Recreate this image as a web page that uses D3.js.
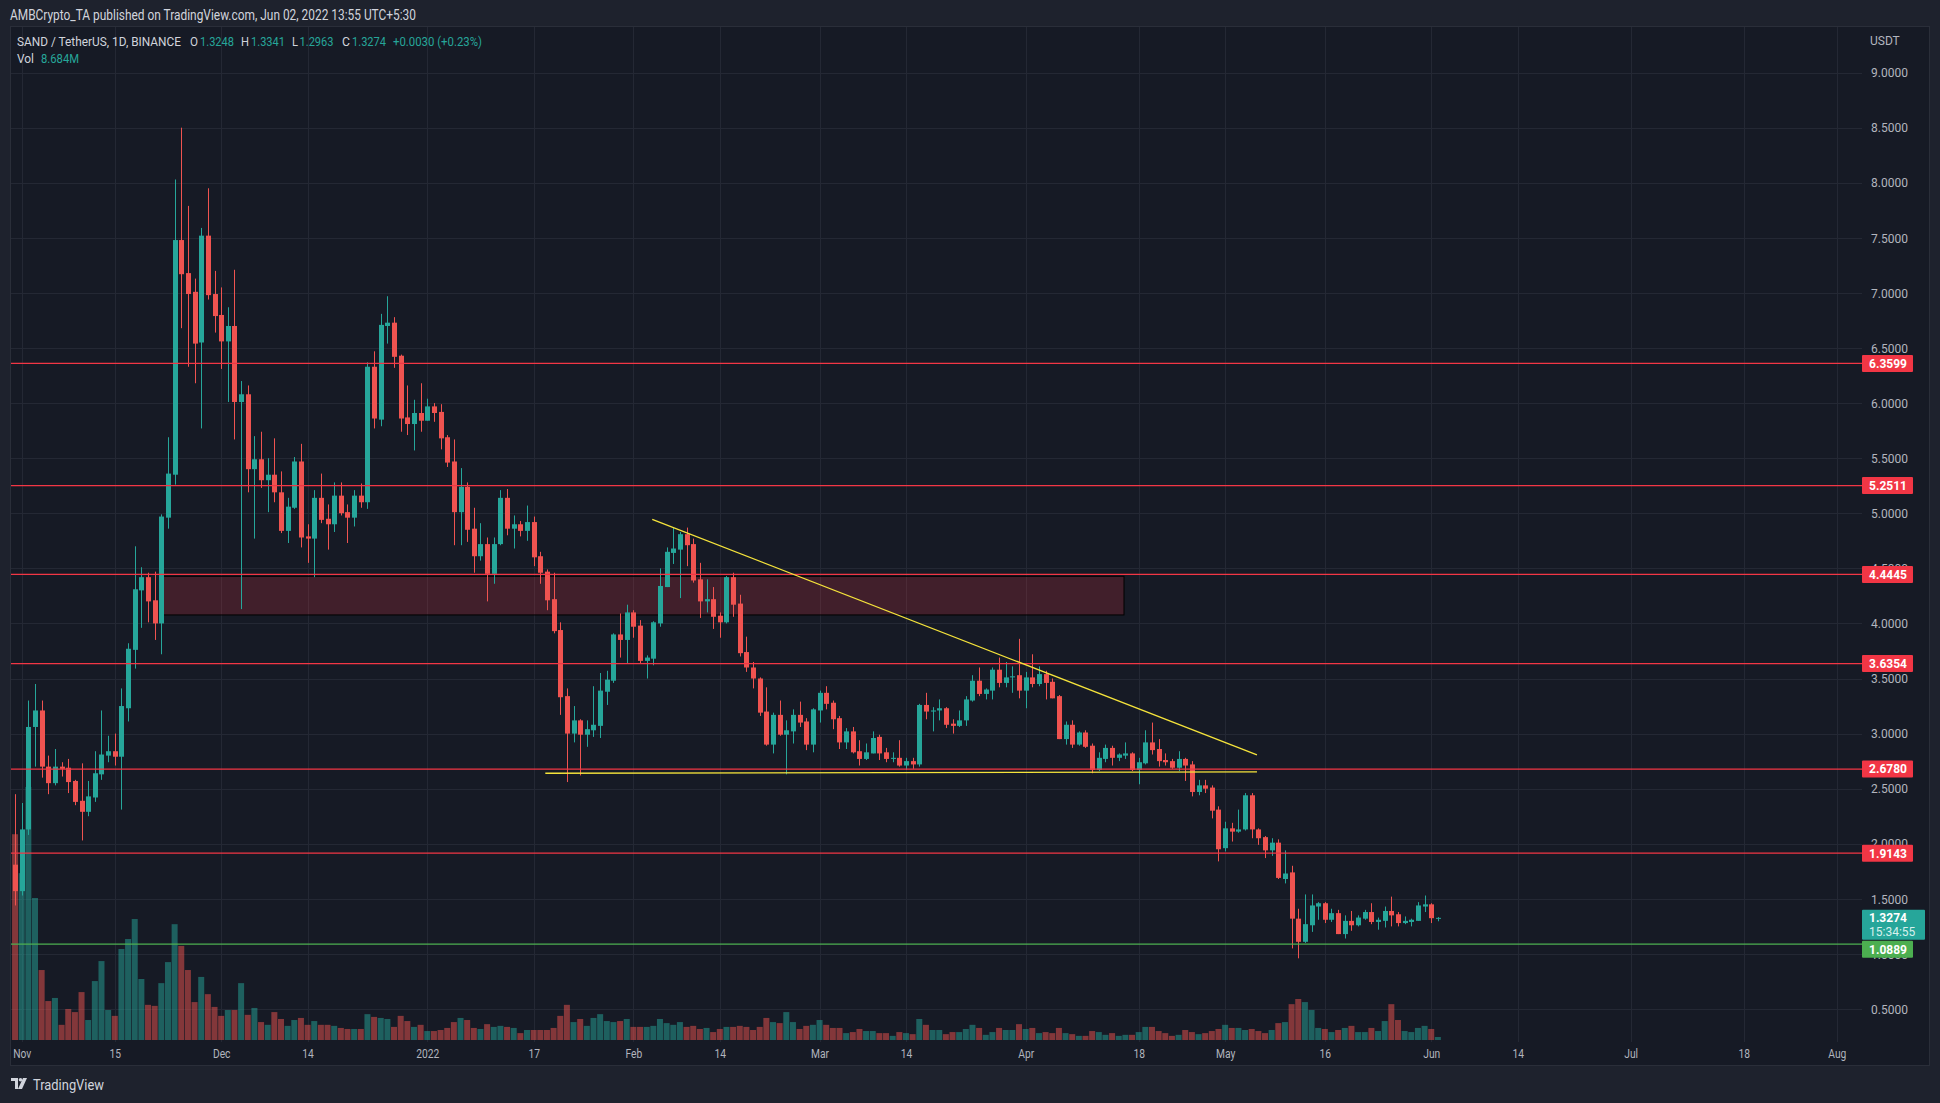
<!DOCTYPE html>
<html>
<head>
<meta charset="utf-8">
<script src="https://cdn.jsdelivr.net/npm/d3@7"></script>
<style>
  body { margin: 0; background: #1e222d; }
  svg { display: block; }
  .narrow { font-family: Roboto, "Noto Sans", sans-serif; }
  .num { font-family: Roboto, "Noto Sans", sans-serif; }
</style>
</head>
<body>
<svg id="chart"></svg>
<script>
var svgWidth = 1940;
var svgHeight = 1103;

// pane box (price pane), axes sit to the right and below
var pane = { left: 11, right: 1862, top: 27, bottom: 1042 };

// daily SAND/USDT candles, first one is 31 Oct 2021
var firstDay = "2021-10-31";
var opens = [1.81,1.57,2.13,3.06,3.21,2.70,2.55,2.70,2.69,2.57,2.39,2.29,2.42,2.63,2.80,2.84,2.79,3.23,3.76,4.30,4.42,4.21,4.00,4.96,5.35,7.48,7.18,7.01,6.55,7.52,6.99,
  6.80,6.56,6.70,6.01,6.08,5.40,5.49,5.30,5.35,5.19,4.84,5.05,5.47,4.79,4.77,5.14,4.95,4.90,5.16,5.01,4.96,5.16,5.10,6.33,5.85,6.70,6.73,6.43,5.87,5.81,5.91,
  5.84,5.97,5.92,5.69,5.47,5.01,5.24,4.86,4.61,4.72,4.45,4.72,5.14,4.86,4.90,4.84,4.92,4.61,4.47,4.22,3.94,3.34,3.00,3.12,2.99,3.03,3.07,3.38,3.48,3.90,3.85,
  4.10,3.98,3.66,3.68,4.00,4.33,4.64,4.67,4.81,4.72,4.40,4.20,4.22,4.07,4.01,4.42,4.18,3.74,3.60,3.50,3.20,2.90,3.17,2.99,3.02,3.17,3.11,2.90,
  3.21,3.37,3.28,3.14,2.92,3.02,2.84,2.77,2.82,2.97,2.83,2.77,2.78,2.71,2.75,2.72,3.26,3.20,3.21,3.23,3.09,3.07,3.12,3.30,3.48,3.36,3.39,3.58,3.46,3.51,3.53,
  3.39,3.51,3.45,3.54,3.47,3.34,2.95,3.08,2.90,3.01,2.89,2.67,2.77,2.87,2.78,2.80,2.82,2.67,2.73,2.92,2.86,2.76,2.75,2.69,2.77,2.72,2.47,2.53,2.51,2.31,
  1.96,2.14,2.11,2.13,2.44,2.13,2.06,1.94,2.01,1.68,1.74,1.32,1.11,1.26,1.43,1.46,1.31,1.37,1.18,1.30,1.26,1.32,1.38,1.29,1.30,1.39,1.36,1.28,1.29,1.30,1.43,
  1.45,1.3248];
var highs = [2.45,2.37,3.30,3.45,3.30,2.80,2.86,2.74,2.77,2.58,2.73,2.57,2.84,3.21,2.98,3.00,3.41,3.82,4.70,4.51,4.46,4.47,4.99,5.69,8.03,8.50,7.79,7.13,7.59,7.95,7.20,
  7.05,6.87,7.21,6.20,6.16,5.70,5.74,5.50,5.68,5.38,5.14,5.51,5.63,4.90,5.21,5.36,5.08,5.28,5.28,5.08,5.21,5.27,6.37,6.47,6.81,6.97,6.78,6.44,6.16,6.03,6.18,
  6.04,6.00,5.99,5.71,5.67,5.41,5.28,5.05,4.91,4.78,4.78,5.21,5.22,4.98,4.93,5.07,4.97,4.65,4.49,4.46,4.01,3.41,3.25,3.13,3.12,3.43,3.55,3.57,3.91,4.09,4.17,
  4.12,4.03,3.71,4.02,4.50,4.69,4.87,4.83,4.87,4.77,4.55,4.40,4.33,4.10,4.43,4.46,4.26,3.88,3.65,3.51,3.42,3.19,3.30,3.12,3.22,3.29,3.14,3.23,
  3.39,3.43,3.30,3.16,3.05,3.06,2.94,2.91,3.02,2.99,2.87,2.83,2.94,2.78,2.78,3.27,3.37,3.24,3.31,3.24,3.13,3.21,3.34,3.53,3.60,3.41,3.60,3.69,3.65,3.61,3.86,
  3.56,3.72,3.61,3.57,3.50,3.35,3.11,3.12,3.02,3.03,2.91,2.83,2.90,2.89,2.82,2.92,2.83,2.78,3.03,3.10,2.95,2.82,2.77,2.84,2.78,2.75,2.58,2.58,2.53,2.34,
  2.20,2.19,2.31,2.46,2.46,2.14,2.07,2.05,2.04,1.94,1.80,1.41,1.54,1.54,1.47,1.47,1.41,1.40,1.35,1.39,1.35,1.40,1.46,1.33,1.43,1.52,1.38,1.34,1.32,1.47,1.53,
  1.46,1.3341];
var lows = [1.44,1.53,2.08,2.70,2.60,2.45,2.53,2.61,2.46,2.35,2.03,2.25,2.38,2.58,2.74,2.71,2.31,3.11,3.59,3.96,4.01,3.85,3.72,4.86,5.26,6.68,6.33,6.18,5.77,6.94,6.64,
  6.31,6.01,5.67,4.13,5.19,4.77,5.23,5.01,5.10,4.82,4.73,5.04,4.69,4.55,4.42,4.91,4.67,4.83,4.98,4.73,4.88,5.05,5.04,5.77,5.79,6.54,6.32,5.74,5.71,5.57,5.74,
  5.84,5.83,5.58,5.42,4.71,4.71,4.74,4.46,4.57,4.20,4.36,4.71,4.80,4.68,4.79,4.75,4.52,4.36,4.12,3.91,3.17,2.56,2.92,2.62,2.88,2.97,2.96,3.26,3.46,3.69,3.64,
  3.87,3.64,3.50,3.62,3.97,4.33,4.54,4.23,4.52,4.37,4.05,4.10,3.95,3.87,4.00,4.06,3.70,3.56,3.41,3.16,2.89,2.82,2.98,2.63,2.91,3.06,2.85,2.83,
  3.10,3.22,3.04,2.86,2.86,2.82,2.71,2.76,2.82,2.76,2.74,2.74,2.70,2.67,2.68,2.70,3.13,3.02,3.12,3.05,3.00,3.06,3.07,3.29,3.34,3.31,3.31,3.42,3.42,3.37,3.32,
  3.23,3.42,3.43,3.31,3.32,2.95,2.90,2.87,2.89,2.87,2.64,2.66,2.74,2.71,2.75,2.77,2.66,2.54,2.72,2.81,2.70,2.71,2.68,2.66,2.57,2.43,2.44,2.46,2.23,1.84,
  1.93,2.02,2.10,2.12,2.05,1.99,1.87,1.89,1.68,1.64,1.05,0.96,1.10,1.20,1.31,1.28,1.29,1.18,1.14,1.21,1.25,1.31,1.27,1.22,1.24,1.25,1.25,1.27,1.25,1.30,1.38,
  1.28,1.2963];
var closes = [1.57,2.13,3.06,3.21,2.70,2.55,2.70,2.68,2.56,2.38,2.29,2.43,2.64,2.81,2.84,2.79,3.25,3.77,4.31,4.42,4.20,4.00,4.97,5.36,7.48,7.17,6.99,6.54,7.52,6.98,6.79,
  6.56,6.70,6.01,6.08,5.40,5.49,5.30,5.35,5.19,4.84,5.06,5.47,4.78,4.77,5.14,4.94,4.90,5.16,5.00,4.96,5.16,5.10,6.33,5.86,6.71,6.73,6.42,5.86,5.81,5.91,5.84,
  5.97,5.91,5.68,5.46,5.01,5.24,4.85,4.61,4.72,4.45,4.72,5.14,4.86,4.90,4.84,4.92,4.60,4.46,4.21,3.93,3.33,3.00,3.12,2.99,3.04,3.08,3.39,3.49,3.90,3.85,4.10,
  3.97,3.66,3.69,4.01,4.34,4.65,4.68,4.81,4.71,4.39,4.20,4.22,4.06,4.01,4.42,4.17,3.73,3.60,3.50,3.19,2.90,3.17,2.99,3.03,3.17,3.10,2.90,3.22,
  3.37,3.27,3.13,2.92,3.02,2.83,2.77,2.83,2.96,2.82,2.77,2.78,2.71,2.75,2.72,3.26,3.20,3.21,3.23,3.08,3.07,3.12,3.31,3.48,3.36,3.40,3.58,3.46,3.51,3.52,3.39,
  3.51,3.45,3.54,3.46,3.32,2.95,3.08,2.90,3.01,2.88,2.67,2.78,2.87,2.78,2.81,2.82,2.67,2.74,2.92,2.85,2.75,2.74,2.69,2.77,2.71,2.47,2.53,2.50,2.30,1.95,
  2.14,2.11,2.13,2.44,2.13,2.05,1.94,2.01,1.69,1.73,1.32,1.11,1.27,1.44,1.46,1.31,1.37,1.18,1.30,1.26,1.33,1.38,1.29,1.31,1.39,1.35,1.28,1.30,1.31,1.44,1.45,
  1.3244,1.3274];
// volume in millions
var volumes = [597,484,734,412,203,113,122,44,90,81,139,58,171,229,87,70,264,293,351,177,102,99,165,226,336,273,203,110,183,133,96,
  70,87,87,165,73,93,52,44,81,61,41,58,64,44,55,44,44,41,35,32,32,32,75,67,64,61,38,70,55,38,44,
  26,26,29,35,52,64,58,35,32,46,38,41,38,35,20,29,29,29,29,35,70,102,52,61,41,64,75,55,52,55,61,
  38,38,38,41,61,49,44,52,38,41,32,35,23,32,38,38,41,38,29,38,64,52,49,81,52,32,41,44,
  58,44,35,35,20,23,32,26,26,20,20,12,23,20,17,61,44,29,29,17,23,23,32,44,35,15,23,35,29,29,46,
  32,35,20,23,20,35,20,17,12,12,26,23,15,20,12,15,15,23,38,38,26,20,12,15,29,23,17,20,26,32,
  44,35,35,29,32,26,20,29,49,52,104,119,110,87,35,32,23,29,35,41,23,23,35,26,55,104,58,26,23,35,41,
  32,8.684];

// axis ticks
var timeTicks = ["2021-11-01","2021-11-15","2021-12-01","2021-12-14","2022-01-01","2022-01-17","2022-02-01","2022-02-14","2022-03-01","2022-03-14",
  "2022-04-01","2022-04-18","2022-05-01","2022-05-16","2022-06-01","2022-06-14","2022-07-01","2022-07-18","2022-08-01"];
var timeLabels = ["Nov","15","Dec","14","2022","17","Feb","14","Mar","14","Apr","18","May","16","Jun","14","Jul","18","Aug"];
var priceTicks = [0.5,1.0,1.5,2.0,2.5,3.0,3.5,4.0,4.5,5.0,5.5,6.0,6.5,7.0,7.5,8.0,8.5,9.0];

// drawings
var resistanceLevels = [6.3599, 5.2511, 4.4445, 3.6354, 2.6780, 1.9143];
var supportLevel = 1.0889;
var lastPrice = 1.3274;
var countdown = "15:34:55";
var zoneDates = ["2021-11-22T05:00Z", "2022-04-15T19:00Z"];
var zonePrices = [4.428, 4.077];
var trendDates = ["2022-02-03T20:00Z", "2022-05-05T19:00Z"];
var trendPrices = [4.945, 2.806];
var baseDates = ["2022-01-18T18:00Z", "2022-05-05T19:00Z"];
var basePrices = [2.640, 2.652];

var upColor = "#26a69a", downColor = "#ef5350";
var levelColor = "#f23645", supportColor = "#4caf50", trendColor = "#f5e33b";
var gridColor = "#242834", textColor = "#b2b5be";

var day0 = new Date(firstDay + "T00:00Z");
var candles = opens.map(function(o, i) {
  return { date: d3.utcDay.offset(day0, i), o: o, h: highs[i], l: lows[i], c: closes[i], v: volumes[i] };
});

var svg = d3.select("#chart").attr("width", svgWidth).attr("height", svgHeight);

var xScale = d3.scaleUtc()
  .domain([new Date("2021-11-01T00:00Z"), new Date("2022-08-01T00:00Z")])
  .range([21.7, 1836.8]);
var yScale = d3.scaleLinear().domain([0.5, 9]).range([1009, 72.6]);
var volScale = d3.scaleLinear().domain([0, d3.max(volumes)]).range([pane.bottom - 2, pane.bottom - 255]);

// frame
svg.append("rect").attr("width", svgWidth).attr("height", svgHeight).attr("fill", "#1e222d");
svg.append("rect")
  .attr("x", pane.left - 0.5).attr("y", pane.top - 0.5)
  .attr("width", 1930 - pane.left).attr("height", 1066 - pane.top)
  .attr("fill", "#161a25").attr("stroke", "#2a2e39");

svg.append("clipPath").attr("id", "paneclip").append("rect")
  .attr("x", pane.left).attr("y", pane.top)
  .attr("width", pane.right - pane.left).attr("height", pane.bottom - pane.top);

// grid
var grid = svg.append("g");
grid.selectAll("line.h").data(priceTicks).enter().append("line")
  .attr("x1", pane.left).attr("x2", pane.right)
  .attr("y1", d => Math.round(yScale(d)) + 0.5).attr("y2", d => Math.round(yScale(d)) + 0.5)
  .attr("stroke", gridColor);
grid.selectAll("line.v").data(timeTicks).enter().append("line")
  .attr("y1", pane.top).attr("y2", pane.bottom)
  .attr("x1", d => Math.round(xScale(new Date(d + "T00:00Z"))) + 0.5)
  .attr("x2", d => Math.round(xScale(new Date(d + "T00:00Z"))) + 0.5)
  .attr("stroke", gridColor);

var plot = svg.append("g").attr("clip-path", "url(#paneclip)");

// volume
plot.selectAll("rect.vol").data(candles).enter().append("rect")
  .attr("x", d => xScale(d.date) - 3)
  .attr("width", 6)
  .attr("y", d => volScale(d.v))
  .attr("height", d => volScale(0) - volScale(d.v))
  .attr("fill", d => d.c >= d.o ? "rgba(38,166,154,0.5)" : "rgba(239,83,80,0.5)");

// zone rectangle
plot.append("rect")
  .attr("x", xScale(new Date(zoneDates[0])))
  .attr("width", xScale(new Date(zoneDates[1])) - xScale(new Date(zoneDates[0])))
  .attr("y", yScale(zonePrices[0]))
  .attr("height", yScale(zonePrices[1]) - yScale(zonePrices[0]))
  .attr("fill", "rgba(242,54,69,0.2)")
  .attr("stroke", "#000").attr("stroke-width", 1);

// candles
var cg = plot.selectAll("g.candle").data(candles).enter().append("g");
cg.append("line")
  .attr("x1", d => Math.round(xScale(d.date)) + 0.5)
  .attr("x2", d => Math.round(xScale(d.date)) + 0.5)
  .attr("y1", d => yScale(d.h)).attr("y2", d => yScale(d.l))
  .attr("stroke", d => d.c >= d.o ? upColor : downColor)
  .attr("stroke-width", 1);
cg.append("rect")
  .attr("x", d => Math.round(xScale(d.date)) - 2)
  .attr("width", 5)
  .attr("y", d => yScale(Math.max(d.o, d.c)))
  .attr("height", d => Math.max(1, Math.abs(yScale(d.o) - yScale(d.c))))
  .attr("fill", d => d.c >= d.o ? upColor : downColor);

// horizontal levels
plot.selectAll("line.lvl").data(resistanceLevels).enter().append("line")
  .attr("x1", pane.left).attr("x2", pane.right)
  .attr("y1", d => yScale(d)).attr("y2", d => yScale(d))
  .attr("stroke", levelColor).attr("stroke-width", 1.2);
plot.append("line")
  .attr("x1", pane.left).attr("x2", pane.right)
  .attr("y1", yScale(supportLevel)).attr("y2", yScale(supportLevel))
  .attr("stroke", supportColor).attr("stroke-width", 1.2);

// trend lines
[[trendDates, trendPrices], [baseDates, basePrices]].forEach(function(t) {
  plot.append("line")
    .attr("x1", xScale(new Date(t[0][0]))).attr("y1", yScale(t[1][0]))
    .attr("x2", xScale(new Date(t[0][1]))).attr("y2", yScale(t[1][1]))
    .attr("stroke", trendColor).attr("stroke-width", 1.3);
});

// price axis
var priceAxis = d3.axisRight(yScale).tickValues(priceTicks).tickFormat(d3.format(".4f")).tickSize(0).tickPadding(0);
var pa = svg.append("g").attr("transform", "translate(1889.5,0)").call(priceAxis);
pa.select(".domain").remove();
pa.selectAll("text").attr("class", "num").attr("fill", textColor).attr("font-size", 12)
  .attr("text-anchor", "middle").attr("dy", "0.35em");

svg.append("text").attr("class", "num").attr("x", 1870).attr("y", 45)
  .attr("fill", textColor).attr("font-size", 12).text("USDT");

// time axis
var timeAxis = d3.axisBottom(xScale)
  .tickValues(timeTicks.map(d => new Date(d + "T00:00Z")))
  .tickFormat((d, i) => timeLabels[i]).tickSize(0).tickPadding(0);
var ta = svg.append("g").attr("transform", "translate(0,1054)").call(timeAxis);
ta.select(".domain").remove();
ta.selectAll("text").attr("class", "narrow").attr("fill", textColor).attr("font-size", 12.5)
  .attr("dy", "0.35em")
  .each(function() {
    var w = this.getComputedTextLength();
    d3.select(this).attr("textLength", w * 0.82).attr("lengthAdjust", "spacingAndGlyphs");
  });

// price labels
function priceTag(price, color, top, h) {
  var g = svg.append("g");
  g.append("rect").attr("x", 1862).attr("y", top).attr("width", 51).attr("height", h)
    .attr("rx", 1).attr("fill", color);
  g.append("text").attr("class", "num").attr("x", 1888).attr("y", top + h / 2)
    .attr("dy", "0.36em").attr("text-anchor", "middle")
    .attr("fill", "#fff").attr("font-size", 12).attr("font-weight", "bold")
    .text(price.toFixed(4));
}
resistanceLevels.forEach(p => priceTag(p, levelColor, yScale(p) - 8.5, 17));

var lastTop = yScale(lastPrice) - 8;
var lg = svg.append("g");
lg.append("rect").attr("x", 1862).attr("y", lastTop).attr("width", 63).attr("height", 30)
  .attr("rx", 1).attr("fill", upColor);
lg.append("text").attr("class", "num").attr("x", 1869).attr("y", lastTop + 8).attr("dy", "0.36em")
  .attr("fill", "#fff").attr("font-size", 12).attr("font-weight", "bold").text(lastPrice.toFixed(4));
lg.append("text").attr("class", "num").attr("x", 1869).attr("y", lastTop + 22).attr("dy", "0.36em")
  .attr("fill", "#d8f0ed").attr("font-size", 12).text(countdown);
priceTag(supportLevel, supportColor, lastTop + 31, 17);

// condensed text helper: squeeze a text into the width it takes in the screenshot
function squeezed(x, y, str, width, size, color) {
  return svg.append("text").attr("class", "narrow").attr("x", x).attr("y", y)
    .attr("fill", color).attr("font-size", size)
    .attr("textLength", width).attr("lengthAdjust", "spacingAndGlyphs").text(str);
}

// header
squeezed(10, 20, "AMBCrypto_TA published on TradingView.com, Jun 02, 2022 13:55 UTC+5:30", 406, 14, "#d1d4dc");

var legendY = 45.5;
squeezed(17, legendY, "SAND / TetherUS, 1D, BINANCE", 164, 13.5, "#d1d4dc");
var last = candles[candles.length - 1];
var prevClose = closes[closes.length - 2];
var ohlc = [["O", last.o, 190], ["H", last.h, 241], ["L", last.l, 292], ["C", last.c, 342]];
ohlc.forEach(function(p) {
  squeezed(p[2], legendY, p[0], p[0] === "L" ? 6 : 8, 13.5, "#d1d4dc");
  squeezed(p[2] + (p[0] === "L" ? 7.5 : 10), legendY, p[1].toFixed(4), 34, 13.5, upColor);
});
var chg = last.c - prevClose;
squeezed(393, legendY, "+" + chg.toFixed(4) + " (+" + (chg / prevClose * 100).toFixed(2) + "%)", 89, 13.5, upColor);
squeezed(17, 62.5, "Vol", 17, 13.5, "#d1d4dc");
squeezed(41, 62.5, last.v.toFixed(3) + "M", 38, 13.5, upColor);

// footer logo
var logo = svg.append("g").attr("transform", "translate(11,1078)").attr("fill", "#d1d4dc");
logo.append("path").attr("d", "M0 0 H7 V11 H4 V3 H0 Z");
logo.append("circle").attr("cx", 9.5).attr("cy", 1.8).attr("r", 1.8);
logo.append("path").attr("d", "M12 0 H16 L11 11 H7 Z");
squeezed(33, 1089.5, "TradingView", 71, 14.5, "#d1d4dc");
</script>
</body>
</html>
